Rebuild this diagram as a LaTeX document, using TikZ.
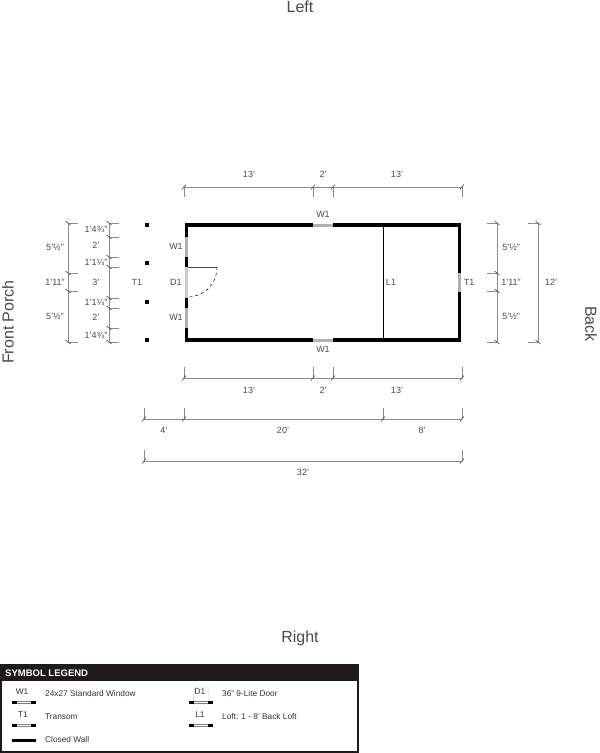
\documentclass[tikz,border=0pt]{standalone}
\usepackage{fontspec}
\setmainfont{Liberation Sans}
\usepackage{xcolor}
\usetikzlibrary{positioning}
\definecolor{dimgray}{HTML}{8A8A8A}
\definecolor{labelgray}{HTML}{4A4A4A}
\definecolor{legendblack}{HTML}{1E1A1B}
\begin{document}
\begin{tikzpicture}[
    x=1pt,y=-1pt,
    wall/.style={line width=3.4pt,black,line cap=rect},
    opening/.style={line width=2.6pt,gray!60},
    dimline/.style={dimgray,line width=0.7pt},
    dimtick/.style={black!70,line width=0.6pt},
    dimlabel/.style={font=\fontsize{9}{10}\selectfont,text=labelgray,inner sep=0pt},
    sidelabel/.style={font=\fontsize{16}{18}\selectfont,text=labelgray,inner sep=0pt},
    post/.style={fill=black,draw=none,minimum size=4pt,inner sep=0pt},
    legendtext/.style={font=\fontsize{8.3}{9}\selectfont,text=black!80,anchor=west,inner sep=0pt},
    legendtag/.style={font=\fontsize{8.3}{9}\selectfont,text=black!80,inner sep=0pt}
]
\useasboundingbox (0,0) rectangle (600,753);
% side names
\node[sidelabel] (left) at (300,7) {Left};
\node[sidelabel] (right) at (300,638) {Right};
\node[sidelabel,rotate=90] (porch) at (8,322) {Front Porch};
\node[sidelabel,rotate=-90] (back) at (591,324) {Back};
% walls
\draw[wall] (186.5,225) rectangle (459.5,340);
\draw[white,line width=3.6pt] (313,225) -- (333,225);
\draw[white,line width=3.6pt] (313,340) -- (333,340);
\draw[opening] (313,225.7) -- (333,225.7);
\draw[opening] (313,340.7) -- (333,340.7);
\draw[opening] (186.5,237) -- (186.5,257);
\draw[opening,gray!40] (186.5,267) -- (186.5,298);
\draw[opening] (186.5,308) -- (186.5,328);
\draw[opening] (459.5,273) -- (459.5,292);
% loft and door
\draw[line width=0.7pt] (383,226) -- (383,339);
\draw[line width=0.7pt,black!70] (188,267) -- (217,267);
\draw[dashed,line width=0.5pt] (217,267) .. controls (217,284) and (204,297) .. (188,297);
\foreach \py in {224.5,262.5,302,340}
    \node[post] at (146.5,\py) {};
% plan tags
\node[dimlabel] (wtop) at (323,214) {W1};
\node[dimlabel] (wbottom) at (323,349) {W1};
\node[dimlabel] (wleft) at (176,246) {W1};
\node[dimlabel] (wlower) at (176,317) {W1};
\node[dimlabel] (door) at (176,282) {D1};
\node[dimlabel] (tporch) at (137,282) {T1};
\node[dimlabel] (tback) at (469,282) {T1};
\node[dimlabel] (loft) at (391,282) {L1};
% horizontal dimensions
\foreach \ya/\yb/\xa/\xb in {187/197/184/462,378/367/184/462,419/408/144/462,461/450/144/462}
    \draw[dimline] (\xa,\ya) -- (\xb,\ya);
\foreach \ya/\yb/\xs in {187/197/{184,313,333,462},378/367/{184,313,333,462},419/408/{144,184,383,462},461/450/{144,462}}
    \foreach \x in \xs {
        \draw[dimline] (\x,\ya) -- (\x,\yb);
        \draw[dimtick] (\x-2,\ya+2.5) -- (\x+2,\ya-2.5);
    }
% vertical dimensions
\foreach \xa/\xb/\ya/\yb in {68/78/223/342,109/119/223/342,497/487/223/342,538/528/223/342}
    \draw[dimline] (\xa,\ya) -- (\xa,\yb);
\foreach \xa/\xb/\ys in {68/78/{223,273,291,342},109/119/{223,237,257,267,298,308,328,342},497/487/{223,273,291,342},538/528/{223,342}}
    \foreach \y in \ys {
        \draw[dimline] (\xa,\y) -- (\xb,\y);
        \draw[dimtick] (\xa-2.5,\y-2) -- (\xa+2.5,\y+2);
    }
% dimension labels
\foreach \x/\y/\t in {249/174/13',323/174/2',397/174/13',
    249/390/13',323/390/2',397/390/13',
    164/430/4',283/430/20',422/430/8',303/472/32',
    55/247/5'½'',55/282/1'11'',55/316/5'½'',
    96/229/1'4¾'',96/245/2',96/262/1'1¼'',96/282/3',96/302/1'1¼'',96/317/2',96/335/1'4¾'',
    511/247/5'½'',511/282/1'11'',511/316/5'½'',551/282/12'}
    \node[dimlabel] at (\x,\y) {\t};
% legend
\draw[legendblack,line width=1.5pt,fill=white] (1,665) rectangle (358,752);
\fill[legendblack] (0,664) rectangle (358.5,681);
\node[font=\bfseries\fontsize{9.5}{11}\selectfont,text=white,anchor=west,inner sep=0pt] (title) at (5,673) {SYMBOL LEGEND};
\foreach \x/\y in {12/702,12/725,189/702,189/725} {
    \draw[line width=3pt,black] (\x,\y) -- ++(5,0);
    \draw[line width=3pt,black] (\x+19,\y) -- ++(5,0);
    \draw[line width=0.5pt,gray] (\x+5,\y-1) -- ++(14,0);
    \draw[line width=0.5pt,gray] (\x+5,\y+1) -- ++(14,0);
}
\draw[line width=3pt,black] (12,740) -- (36,740);
\node[legendtag] (wtag) at (22,692) {W1};
\node[legendtag] (ttag) at (23,715) {T1};
\node[legendtag] (dtag) at (200,692) {D1};
\node[legendtag] (ltag) at (200,715) {L1};
\draw[gray!60,line width=0.4pt] (193,701) -- (195,687) -- (209,687) -- (209,701);
\node[legendtext] (wtext) at (45,694) {24x27 Standard Window};
\node[legendtext] (ttext) at (45,717) {Transom};
\node[legendtext] (ctext) at (45,740) {Closed Wall};
\node[legendtext] (dtext) at (222,694) {36'' 9-Lite Door};
\node[legendtext] (ltext) at (222,717) {Loft: 1 - 8' Back Loft};
\end{tikzpicture}
\end{document}
